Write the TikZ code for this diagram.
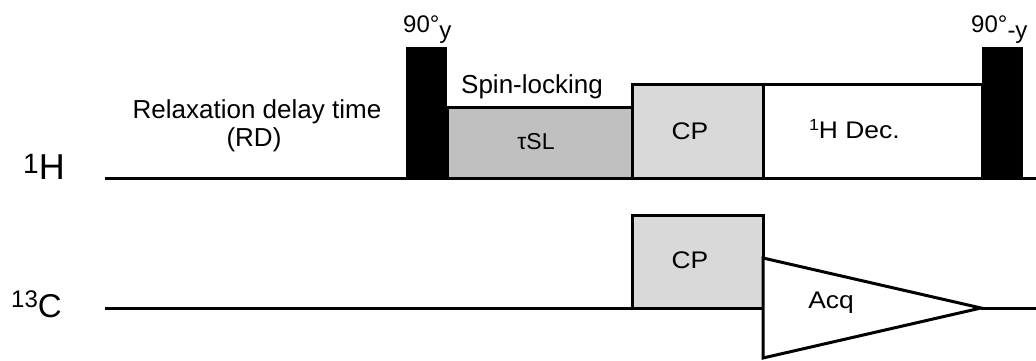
\documentclass[tikz,border=0pt]{standalone}
\usepackage{fontspec}
\setmainfont{Liberation Sans}
\newcommand{\wide}[1]{\scalebox{1.1}[1]{#1}}
\begin{document}
\begin{tikzpicture}[x=1pt,y=-1pt,
  ln/.style={line width=3pt},
  box/.style={draw,line width=3pt},
  lbl/.style={inner sep=0pt,font=\fontsize{26}{30}\selectfont},
  sml/.style={inner sep=0pt,font=\fontsize{24}{26}\selectfont},
  deg/.style={inner sep=0pt,anchor=base west,font=\fontsize{24}{26}\selectfont}]
\useasboundingbox (0,0) rectangle (1036,361);
% shapes
\fill[black] (406,47) rectangle (447,178);
\fill[black] (982,47) rectangle (1023,178);
\draw[box,fill={rgb,255:red,192;green,192;blue,192}] (447,178) -- (447,107) -- (632,107) -- (632,178);
\draw[box,fill={rgb,255:red,217;green,217;blue,217}] (632,178) rectangle (763,84);
\draw[box,fill=white] (763,178) -- (763,84) -- (982,84) -- (982,178);
\draw[box,fill={rgb,255:red,217;green,217;blue,217}] (632,308) rectangle (763,215);
\draw[box,fill=white,line join=miter] (763,258) -- (981,308) -- (763,358) -- cycle;
\draw[ln] (105,178) -- (1036,178);
\draw[ln] (105,308) -- (632,308);
\draw[ln] (981,308) -- (1036,308);
% texts
\node[inner sep=0pt,anchor=base west,font=\fontsize{36}{40}\selectfont] (h1) at (23,179)
  {\raisebox{6pt}{\fontsize{28}{30}\selectfont 1}H};
\node[inner sep=0pt,anchor=base west,font=\fontsize{33}{36}\selectfont] (c13) at (11,317)
  {\raisebox{10pt}{\fontsize{24}{26}\selectfont 13}C};
\node[deg] (p1) at (403,33) {90°\raisebox{-6pt}{y}};
\node[deg] (p2) at (971,33) {90°\raisebox{-6pt}{-y}};
\node[lbl,anchor=base] (sl) at (532,93) {Spin-locking};
\node[inner sep=0pt,anchor=base,font=\fontsize{23}{25}\selectfont] (tau) at (536,149) {τSL};
\node[sml,anchor=base] (cp1) at (690,139) {\wide{CP}};
\node[sml,anchor=base west] (dec) at (809,138) {\wide{\raisebox{8pt}{\fontsize{16}{17}\selectfont 1}H Dec.}};
\node[lbl,anchor=base] (rd1) at (257,118) {Relaxation delay time};
\node[lbl,anchor=base] (rd2) at (254,146) {(RD)};
\node[sml,anchor=base] (cp2) at (690,268) {\wide{CP}};
\node[sml,anchor=base] (acq) at (831,308) {\wide{Acq}};
\end{tikzpicture}
\end{document}
